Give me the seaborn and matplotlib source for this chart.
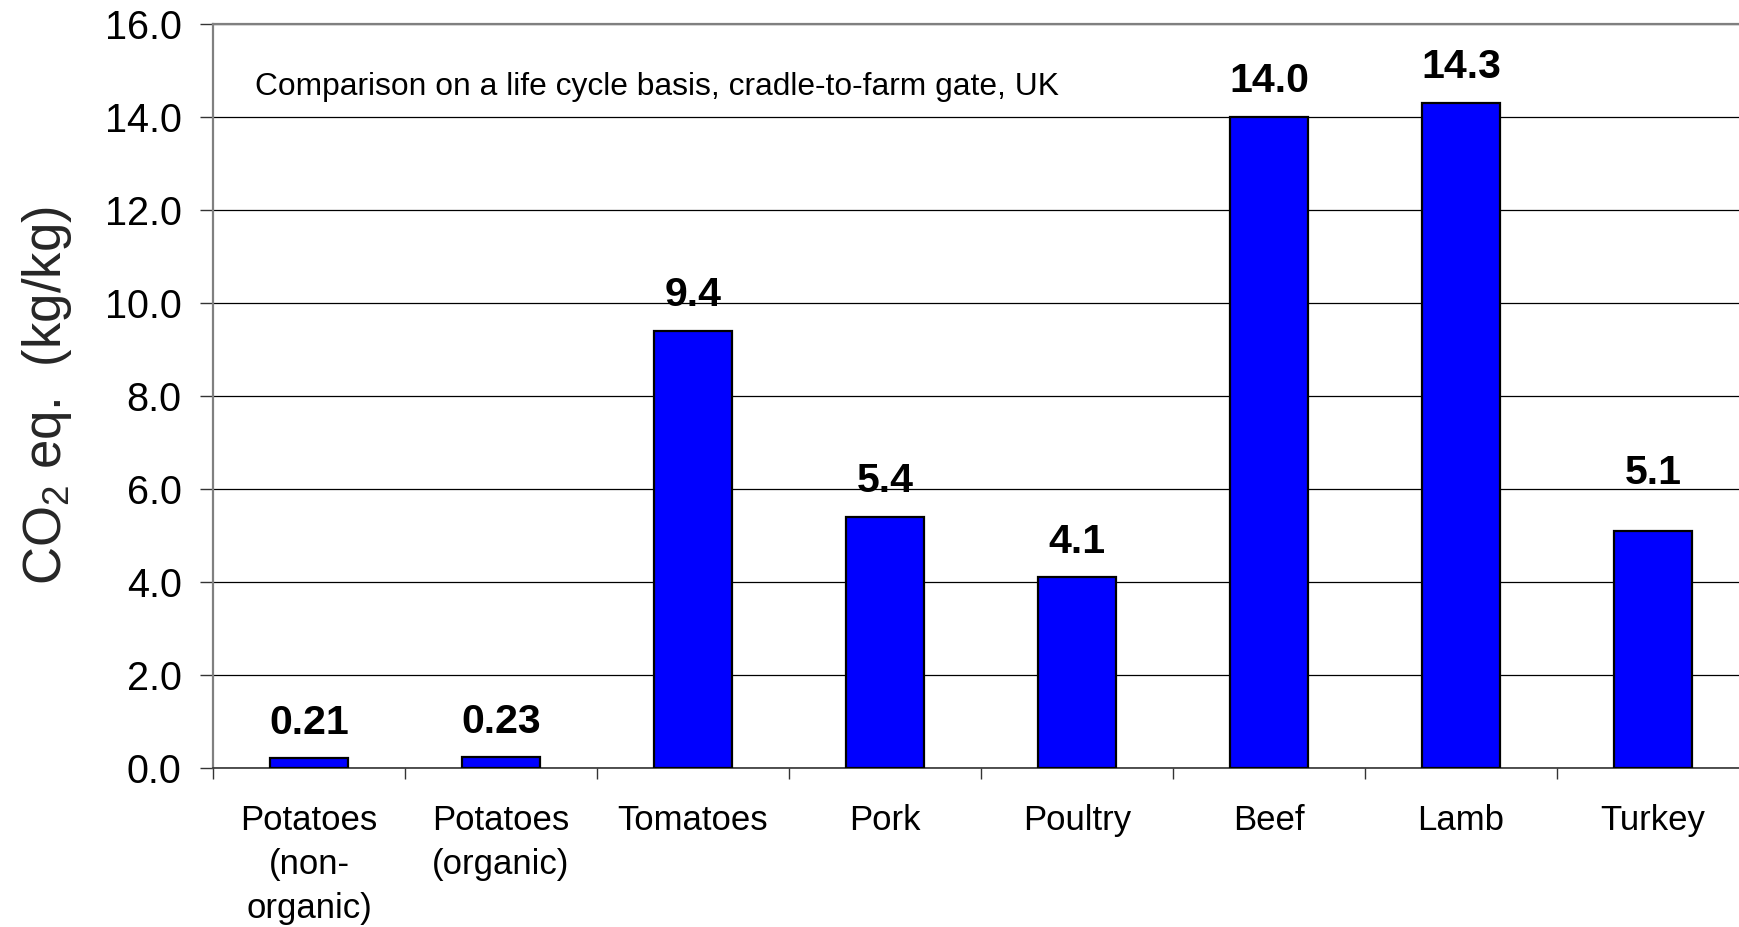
import matplotlib
matplotlib.use("Agg")
import matplotlib.pyplot as plt
from matplotlib import transforms
import seaborn as sns
import numpy as np

# Greenhouse gas emissions per kg of product, cradle-to-farm gate
categories = ["Potatoes\n(non-\norganic)", "Potatoes\n(organic)", "Tomatoes", "Pork",
              "Poultry", "Beef", "Lamb", "Turkey"]
values = [0.21, 0.23, 9.4, 5.4, 4.1, 14.0, 14.3, 5.1]
value_labels = ["0.21", "0.23", "9.4", "5.4", "4.1", "14.0", "14.3", "5.1"]
y_ticks = [0.0, 2.0, 4.0, 6.0, 8.0, 10.0, 12.0, 14.0, 16.0]

sns.set_theme(style="white")
plt.rcParams["font.family"] = ["Liberation Sans", "DejaVu Sans"]
plt.rcParams["mathtext.fontset"] = "custom"
plt.rcParams["mathtext.rm"] = "Liberation Sans"
plt.rcParams["mathtext.it"] = "Liberation Sans:italic"

W, H = 1740, 927
fig = plt.figure(figsize=(W / 100, H / 100), dpi=100)
ax = fig.add_axes([213 / W, (H - 768) / H, (1749 - 213) / W, 744 / H])

sns.barplot(x=categories, y=values, color="#0000FF", saturation=1,
            edgecolor="black", linewidth=1.6, width=0.41, ax=ax, zorder=3)

ax.set_xlim(-0.5, len(categories) - 0.5)
ax.set_ylim(0, 16)
ax.set_yticks(y_ticks)
ax.set_yticklabels([f"{t:.1f}" for t in y_ticks])

# horizontal gridlines
ax.yaxis.grid(True, color="black", linewidth=0.9, zorder=0)
ax.xaxis.grid(False)
ax.set_axisbelow(True)

for side in ("top", "left"):
    ax.spines[side].set_color("#808080")
    ax.spines[side].set_linewidth(1.6)
ax.spines["bottom"].set_color("#333333")
ax.spines["bottom"].set_linewidth(1.2)
ax.spines["right"].set_visible(False)

ax.tick_params(axis="y", which="major", left=True, length=9.5, width=1.0,
               color="#333333", pad=13, labelsize=28.5, labelcolor="black")
ax.tick_params(axis="x", which="major", bottom=True, length=0, pad=26,
               labelsize=25, labelcolor="black")
# category separators along the x axis
ax.set_xticks(np.arange(-0.5, len(categories), 1.0), minor=True)
ax.tick_params(axis="x", which="minor", bottom=True, length=8, width=1.0,
               color="#333333", direction="out")
for lbl in ax.get_xticklabels():
    lbl.set_linespacing(1.42)

ax.set_xlabel("")
ax.set_ylabel(r"CO$_{\mathrm{2}}$ eq.  (kg/kg)", fontsize=38, labelpad=22)

# value labels above each bar; the turkey label sits a little higher
label_offsets = [12, 12, 12, 12, 12, 12, 12, 28]
for bar, text, off in zip(ax.containers[0], value_labels, label_offsets):
    ax.annotate(text, (bar.get_x() + bar.get_width() / 2, bar.get_height()),
                xytext=(0, off), textcoords="offset points",
                ha="center", va="bottom", fontsize=29.5, fontweight="bold",
                color="black")

ax.text(0.0273, 14.65, "Comparison on a life cycle basis, cradle-to-farm gate, UK",
        transform=transforms.blended_transform_factory(ax.transAxes, ax.transData),
        fontsize=22.9, va="center", ha="left", color="black")

fig.savefig("out.png", dpi=100, facecolor="white")
